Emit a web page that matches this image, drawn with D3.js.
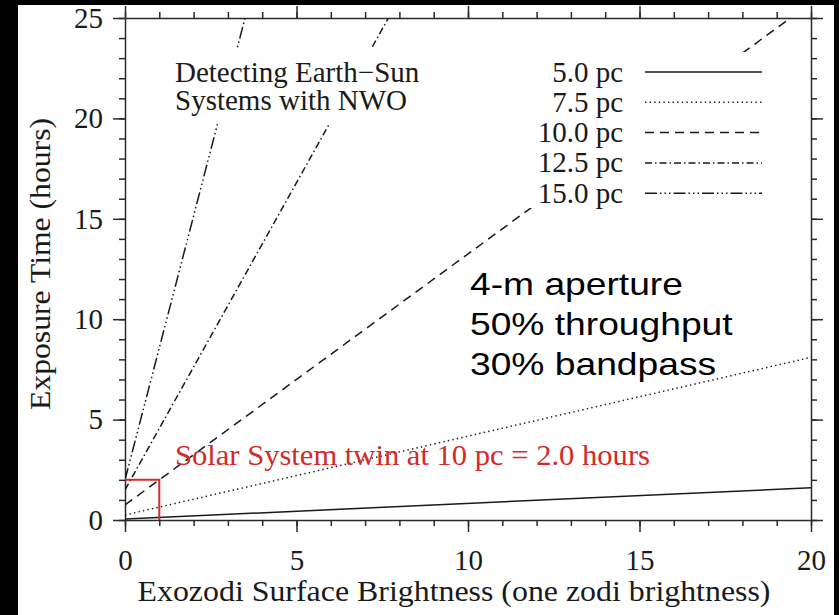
<!DOCTYPE html>
<html>
<head>
<meta charset="utf-8">
<script src="https://cdn.jsdelivr.net/npm/d3@7"></script>
<style>
  body { margin: 0; background: #000; }
  svg { display: block; }
  .axis path, .axis line { stroke: #2a2a2a; stroke-width: 1.5; }
  .axis text { font-family: 'Liberation Serif', 'Times New Roman', serif; font-size: 29px; fill: #1a1a1a; }
  .serif { font-family: 'Liberation Serif', 'Times New Roman', serif; fill: #1a1a1a; }
  .sans { font-family: 'Liberation Sans', Arial, sans-serif; fill: #000; }
</style>
</head>
<body>
<svg id="chart"></svg>
<script>
// Series: exposure time (hours) vs exozodi brightness, one straight line per distance
const seriesNames = ['5.0 pc', '7.5 pc', '10.0 pc', '12.5 pc', '15.0 pc'];
const pc50 = [[0, 0.05], [20, 1.6]];
const pc75 = [[0, 0.25], [20, 8.1]];
const pc100 = [[0, 0.75], [19.4, 25]];
const pc125 = [[0, 1.5], [7.68, 25]];
const pc150 = [[0, 2.0], [3.5, 25]];
const seriesData = [pc50, pc75, pc100, pc125, pc150];

// Solar System twin marker (zodi = 1, 10 pc)
const twinZodi = 1;
const twinHours = 2.0;

const xMajorTicks = [0, 5, 10, 15, 20];
const yMajorTicks = [0, 5, 10, 15, 20, 25];
const titleLines = ['Detecting Earth\u2212Sun', 'Systems with NWO'];
const noteLines = ['4-m aperture', '50% throughput', '30% bandpass'];

const W = 839, H = 615;
const margin = { left: 125, top: 18, right: W - 811, bottom: H - 520 };
const width = W - margin.left - margin.right;
const height = H - margin.top - margin.bottom;

const dashes = ['none', '1.4,3.2', '9,6', '7,3,1.5,3', '12,3,1.5,3,1.5,3,1.5,3'];

const svg = d3.select('#chart').attr('width', W).attr('height', H);

// white page with black frame around it
svg.append('rect').attr('width', W).attr('height', H).attr('fill', '#000');
svg.append('rect').attr('x', 18).attr('y', 5).attr('width', 834 - 18).attr('height', H - 5).attr('fill', '#fff');

const x = d3.scaleLinear().domain([0, 20]).range([0, width]);
const y = d3.scaleLinear().domain([0, 25]).range([height, 0]);

const g = svg.append('g').attr('transform', `translate(${margin.left},${margin.top})`);

g.append('clipPath').attr('id', 'plot-clip')
  .append('rect').attr('width', width).attr('height', height);

/**
 * Draws major + minor ticks on one side of the box
 */
function addAxis(axisFn, scale, majors, transform, labels, padding) {
  const minors = d3.range(scale.domain()[0], scale.domain()[1] + 1, 1);
  g.append('g').attr('class', 'axis').attr('transform', transform)
    .call(axisFn(scale).tickValues(minors).tickSize(6).tickSizeOuter(0).tickFormat(''));
  const major = g.append('g').attr('class', 'axis').attr('transform', transform)
    .call(axisFn(scale).tickValues(majors).tickSize(12).tickSizeOuter(0)
      .tickPadding(padding).tickFormat(labels ? d3.format('d') : ''));
  major.select('.domain').remove();
}

addAxis(d3.axisBottom, x, xMajorTicks, `translate(0,${height})`, true, 17);
addAxis(d3.axisTop, x, xMajorTicks, 'translate(0,0)', false, 0);
addAxis(d3.axisLeft, y, yMajorTicks, 'translate(0,0)', true, 10);
addAxis(d3.axisRight, y, yMajorTicks, `translate(${width},0)`, false, 0);

// axis titles
svg.append('text').attr('class', 'serif')
  .attr('x', 454).attr('y', 601)
  .attr('text-anchor', 'middle').attr('font-size', 30)
  .attr('textLength', 633).attr('lengthAdjust', 'spacingAndGlyphs')
  .text('Exozodi Surface Brightness (one zodi brightness)');

svg.append('text').attr('class', 'serif')
  .attr('transform', 'translate(50,264) rotate(-90)')
  .attr('text-anchor', 'middle').attr('font-size', 30)
  .attr('textLength', 292).attr('lengthAdjust', 'spacingAndGlyphs')
  .text('Exposure Time (hours)');

// data lines
const line = d3.line().x((d) => x(d[0])).y((d) => y(d[1]));
g.append('g').attr('clip-path', 'url(#plot-clip)')
  .selectAll('path')
  .data(seriesData)
  .enter()
  .append('path')
  .attr('d', line)
  .attr('fill', 'none')
  .attr('stroke', '#1a1a1a')
  .attr('stroke-width', 1.5)
  .attr('stroke-dasharray', (d, i) => dashes[i]);

// red solar-twin box
g.append('path')
  .attr('d', `M${x(0)},${y(twinHours)}H${x(twinZodi)}V${y(0)}`)
  .attr('fill', 'none')
  .attr('stroke', '#d32a2a')
  .attr('stroke-width', 2);

g.append('text').attr('class', 'serif')
  .attr('x', 50).attr('y', 465 - margin.top)
  .attr('font-size', 30).style('fill', '#d32a2a')
  .attr('textLength', 475).attr('lengthAdjust', 'spacingAndGlyphs')
  .text(`Solar System twin at 10 pc = ${twinHours.toFixed(1)} hours`);

// plot title, on a white patch that hides the lines behind it
svg.append('rect').attr('x', 168).attr('y', 49).attr('width', 257).attr('height', 74).attr('fill', '#fff');
svg.append('g').selectAll('text')
  .data(titleLines)
  .enter()
  .append('text')
  .attr('class', 'serif')
  .attr('x', 175)
  .attr('y', (d, i) => 82 + i * 28)
  .attr('font-size', 29)
  .text((d) => d);

// legend, also on a white patch
svg.append('rect').attr('x', 528).attr('y', 52).attr('width', 244).attr('height', 156).attr('fill', '#fff');
const legend = svg.append('g').selectAll('g')
  .data(seriesNames)
  .enter()
  .append('g')
  .attr('transform', (d, i) => `translate(0,${72 + i * 30.3})`);

legend.append('text').attr('class', 'serif')
  .attr('x', 623).attr('y', 9.5)
  .attr('text-anchor', 'end').attr('font-size', 29)
  .text((d) => d);

legend.append('line')
  .attr('x1', 645).attr('x2', 762)
  .attr('stroke', '#1a1a1a').attr('stroke-width', 1.5)
  .attr('stroke-dasharray', (d, i) => dashes[i]);

// instrument note
svg.append('g').attr('transform', 'translate(470,0) scale(1.2,1)')
  .selectAll('text')
  .data(noteLines)
  .enter()
  .append('text')
  .attr('class', 'sans')
  .attr('x', 0)
  .attr('y', (d, i) => 295 + i * 40)
  .attr('font-size', 31)
  .text((d) => d);
</script>
</body>
</html>
